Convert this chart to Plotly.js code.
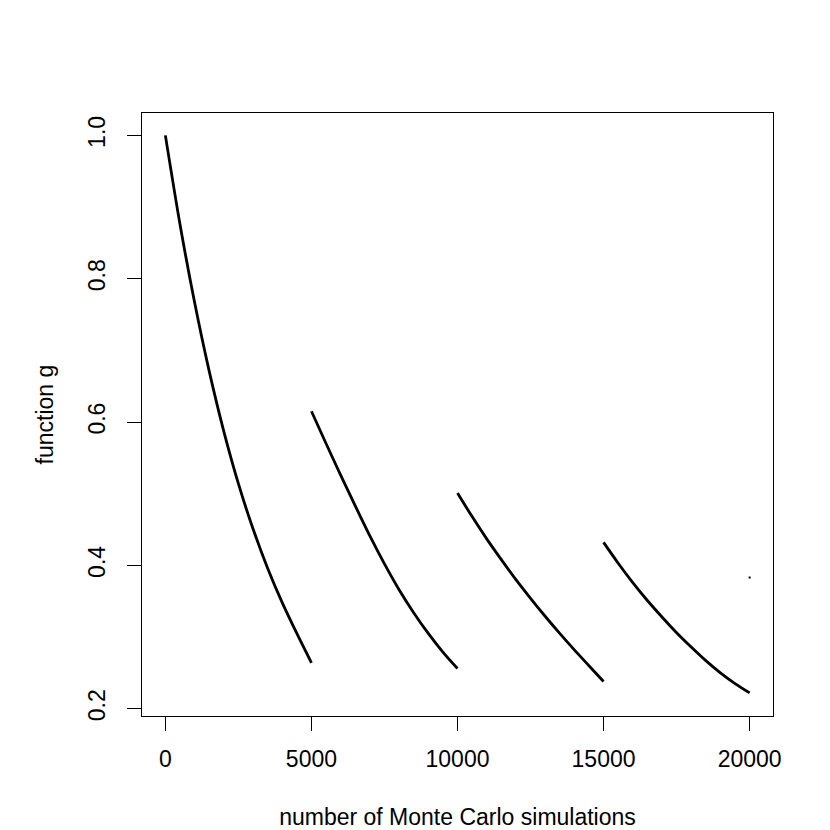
<!DOCTYPE html>
<html>
<head>
<meta charset="utf-8">
<script src="https://cdn.plot.ly/plotly-3.0.1.min.js"></script>
<style>html,body{margin:0;padding:0;background:#fff;}#chart{width:830px;height:830px;}</style>
</head>
<body>
<div id="chart"></div>
<script>
// Values
const seg1X = [0, 500, 1000, 1500, 2000, 2500, 3000, 3500, 4000, 4500, 5000];
const seg1Y = [1.000, 0.876, 0.767, 0.671, 0.587, 0.514, 0.451, 0.396, 0.348, 0.305, 0.264];
const seg2X = [5000, 5500, 6000, 6500, 7000, 7500, 8000, 8500, 9000, 9500, 10000];
const seg2Y = [0.615, 0.570, 0.526, 0.483, 0.441, 0.402, 0.366, 0.334, 0.305, 0.279, 0.256];
const seg3X = [10000, 10500, 11000, 11500, 12000, 12500, 13000, 13500, 14000, 14500, 15000];
const seg3Y = [0.501, 0.468, 0.437, 0.408, 0.380, 0.354, 0.329, 0.305, 0.282, 0.260, 0.238];
const seg4X = [15000, 15500, 16000, 16500, 17000, 17500, 18000, 18500, 19000, 19500, 20000];
const seg4Y = [0.432, 0.403, 0.376, 0.351, 0.328, 0.306, 0.286, 0.267, 0.250, 0.235, 0.222];
const lastX = [20000];
const lastY = [0.383];
const yTicks = [0.2, 0.4, 0.6, 0.8, 1.0];
const yTickText = ["0.2", "0.4", "0.6", "0.8", "1.0"];
const xTicks = [0, 5000, 10000, 15000, 20000];
const xTickText = ["0", "5000", "10000", "15000", "20000"];

const font = {family: "Liberation Sans, Arial, sans-serif", size: 23, color: "#000"};
const lineStyle = {color: "#000", width: 2.8, shape: "spline", smoothing: 0.8};

const segs = [[seg1X, seg1Y], [seg2X, seg2Y], [seg3X, seg3Y], [seg4X, seg4Y]];
const traces = segs.map(s => ({
  x: s[0], y: s[1], type: "scatter", mode: "lines", line: lineStyle, hoverinfo: "skip"
}));
traces.push({
  x: lastX, y: lastY, type: "scatter", mode: "markers",
  marker: {symbol: "square", size: 2, color: "#000", line: {width: 0}}
});

const layout = {
  width: 830, height: 830,
  paper_bgcolor: "#fff", plot_bgcolor: "#fff",
  showlegend: false,
  font: font,
  margin: {l: 142, r: 57, t: 113, b: 114, pad: 0},
  xaxis: {
    range: [-800, 20800], tickvals: xTicks, ticktext: xTickText,
    ticks: "outside", ticklen: 14, tickwidth: 1, tickcolor: "#000",
    showline: true, linecolor: "#000", linewidth: 1, mirror: true,
    showgrid: false, zeroline: false, tickfont: font,
    ticklabelstandoff: 8,
    title: {text: "number of Monte Carlo simulations", font: font, standoff: 40},
    automargin: false
  },
  yaxis: {
    range: [0.1898, 1.0312], tickvals: yTicks, ticktext: yTickText,
    ticks: "outside", ticklen: 14, tickwidth: 1, tickcolor: "#000",
    showline: true, linecolor: "#000", linewidth: 1, mirror: true,
    showgrid: false, zeroline: false, tickfont: font, tickangle: -90,
    ticklabelstandoff: 13,
    title: {text: "function g", font: font, standoff: 23},
    automargin: false
  }
};

Plotly.newPlot("chart", traces, layout, {displayModeBar: false, staticPlot: true});
</script>
</body>
</html>
